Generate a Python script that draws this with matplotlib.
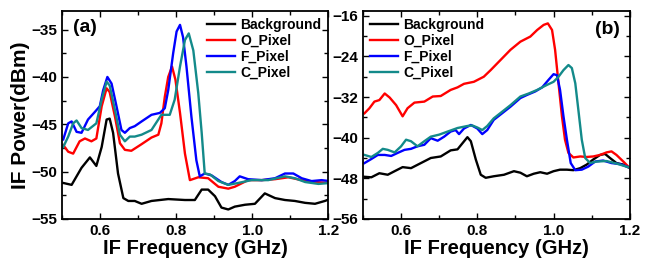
import matplotlib
matplotlib.use("Agg")
import matplotlib.pyplot as plt
from matplotlib.ticker import MultipleLocator

plt.rcParams['font.family'] = ['Liberation Sans', 'DejaVu Sans']
plt.rcParams['font.weight'] = 'bold'

# ---- panel (a) ----
a_bg_f = [0.503, 0.525, 0.551, 0.573, 0.59, 0.604, 0.617, 0.625, 0.634, 0.647, 0.661, 0.674,
          0.691, 0.709, 0.735, 0.779, 0.823, 0.849, 0.867, 0.884, 0.902, 0.919, 0.937, 0.954,
          0.981, 1.007, 1.033, 1.06, 1.086, 1.112, 1.139, 1.165, 1.191, 1.204]
a_bg_p = [-51.2, -51.4, -49.6, -48.5, -49.4, -47.4, -44.5, -44.4, -45.9, -50.2, -52.8, -53.1,
          -53.1, -53.4, -53.1, -52.9, -53.0, -53.0, -51.9, -51.9, -52.6, -53.8, -54.0, -53.7,
          -53.5, -53.4, -52.3, -52.8, -53.0, -53.1, -53.3, -53.4, -53.1, -52.9]

a_o_f = [0.503, 0.516, 0.529, 0.546, 0.56, 0.577, 0.59, 0.604, 0.617, 0.625, 0.639, 0.652,
         0.665, 0.682, 0.709, 0.735, 0.753, 0.761, 0.77, 0.779, 0.789, 0.798, 0.81, 0.823,
         0.836, 0.858, 0.884, 0.911, 0.937, 0.954, 0.989, 1.025, 1.06, 1.095, 1.13, 1.165, 1.204]
a_o_p = [-47.2, -47.9, -48.1, -46.8, -46.5, -46.8, -46.5, -43.1, -41.2, -41.6, -44.2, -47.0,
         -47.7, -47.8, -47.1, -46.4, -46.1, -44.9, -42.1, -40.0, -38.9, -40.3, -43.8, -48.1,
         -50.9, -50.6, -50.7, -51.6, -51.8, -51.6, -50.9, -50.9, -50.8, -50.6, -50.9, -51.1, -51.2]

a_f_f = [0.503, 0.516, 0.525, 0.538, 0.551, 0.568, 0.586, 0.599, 0.608, 0.619, 0.63, 0.643,
         0.656, 0.665, 0.678, 0.691, 0.709, 0.735, 0.757, 0.77, 0.779, 0.792, 0.801, 0.81,
         0.818, 0.827, 0.84, 0.853, 0.862, 0.875, 0.893, 0.919, 0.937, 0.954, 0.967, 0.989,
         1.025, 1.06, 1.086, 1.108, 1.13, 1.156, 1.182, 1.204]
a_f_p = [-46.6, -44.9, -44.7, -45.8, -45.9, -44.5, -43.7, -43.1, -41.4, -40.0, -40.7, -43.1,
         -45.6, -45.9, -45.4, -45.2, -44.7, -44.0, -43.8, -43.3, -41.4, -37.5, -35.2, -34.5,
         -35.8, -38.9, -44.2, -48.8, -50.5, -50.2, -50.4, -51.1, -51.4, -51.0, -50.5, -50.8,
         -50.9, -50.7, -50.2, -50.2, -50.7, -51.0, -50.9, -51.0]

a_c_f = [0.503, 0.516, 0.529, 0.538, 0.551, 0.568, 0.59, 0.604, 0.617, 0.625, 0.639, 0.652,
         0.665, 0.678, 0.691, 0.709, 0.735, 0.761, 0.783, 0.796, 0.81, 0.823, 0.833, 0.845,
         0.858, 0.867, 0.875, 0.889, 0.911, 0.937, 0.963, 0.998, 1.042, 1.086, 1.112, 1.139,
         1.174, 1.204]
a_c_p = [-47.4, -46.3, -44.9, -44.6, -45.4, -45.6, -44.9, -42.4, -40.5, -40.9, -43.5, -46.1,
         -46.8, -46.3, -46.3, -46.1, -45.6, -44.0, -44.0, -42.4, -38.9, -36.1, -35.4, -37.2,
         -41.7, -45.9, -50.2, -50.3, -51.0, -51.4, -51.2, -50.9, -50.9, -50.5, -50.7, -51.1,
         -51.3, -51.2]

# ---- panel (b) ----
b_bg_f = [0.504, 0.522, 0.543, 0.565, 0.583, 0.604, 0.626, 0.652, 0.678, 0.704, 0.73, 0.748,
          0.761, 0.774, 0.783, 0.796, 0.809, 0.822, 0.843, 0.87, 0.896, 0.913, 0.93, 0.948,
          0.965, 0.983, 1.0, 1.017, 1.035, 1.052, 1.07, 1.087, 1.104, 1.122, 1.135, 1.148,
          1.165, 1.183, 1.2]
b_bg_p = [-47.7, -47.8, -47.0, -47.3, -46.6, -45.8, -46.0, -45.0, -44.0, -43.7, -42.5, -42.3,
          -41.1, -39.9, -40.7, -44.3, -47.3, -47.9, -47.6, -47.3, -46.6, -46.9, -47.6, -47.1,
          -46.8, -47.1, -46.6, -46.3, -46.3, -46.4, -46.0, -45.3, -44.3, -43.4, -43.2, -44.0,
          -45.0, -45.3, -46.0]

b_o_f = [0.504, 0.517, 0.53, 0.543, 0.557, 0.57, 0.587, 0.604, 0.617, 0.635, 0.661, 0.683,
         0.704, 0.73, 0.748, 0.765, 0.791, 0.817, 0.835, 0.861, 0.887, 0.913, 0.939, 0.957,
         0.974, 0.985, 0.996, 1.004, 1.013, 1.022, 1.03, 1.039, 1.052, 1.07, 1.087, 1.104,
         1.122, 1.139, 1.152, 1.165, 1.183, 1.2]
b_o_p = [-35.2, -34.2, -32.9, -32.6, -31.3, -32.1, -33.6, -35.8, -34.2, -33.1, -32.9, -31.9,
         -31.8, -30.6, -30.1, -29.4, -29.0, -28.0, -26.7, -24.7, -22.7, -21.1, -20.1, -18.8,
         -17.8, -17.5, -18.8, -22.7, -29.3, -35.8, -40.4, -43.0, -43.9, -43.7, -43.8, -43.7,
         -43.4, -42.9, -42.7, -43.4, -44.7, -46.0]

b_f_f = [0.504, 0.522, 0.539, 0.557, 0.574, 0.591, 0.609, 0.626, 0.643, 0.661, 0.678, 0.696,
         0.713, 0.73, 0.743, 0.752, 0.765, 0.783, 0.8, 0.813, 0.826, 0.843, 0.865, 0.887,
         0.913, 0.93, 0.952, 0.97, 0.987, 1.0, 1.009, 1.017, 1.026, 1.035, 1.045, 1.057,
         1.074, 1.091, 1.109, 1.13, 1.152, 1.174, 1.2]
b_f_p = [-45.0, -44.2, -43.4, -43.4, -43.6, -43.0, -42.4, -42.2, -41.7, -41.4, -40.1, -40.6,
         -39.8, -38.8, -38.5, -39.3, -38.2, -37.5, -38.2, -39.3, -38.5, -36.5, -35.2, -33.9,
         -32.2, -31.6, -30.9, -30.1, -28.6, -27.5, -27.7, -30.6, -35.8, -40.4, -45.0, -46.4,
         -46.3, -45.7, -44.7, -44.5, -45.0, -45.2, -45.9]

b_c_f = [0.504, 0.522, 0.539, 0.552, 0.565, 0.583, 0.6, 0.613, 0.626, 0.643, 0.661, 0.678,
         0.7, 0.722, 0.748, 0.774, 0.787, 0.8, 0.813, 0.826, 0.843, 0.865, 0.887, 0.913,
         0.935, 0.957, 0.983, 1.0, 1.013, 1.026, 1.039, 1.048, 1.057, 1.065, 1.074, 1.083,
         1.096, 1.113, 1.139, 1.165, 1.2]
b_c_p = [-43.4, -43.8, -43.0, -42.2, -42.4, -42.9, -41.7, -40.4, -40.7, -41.7, -40.7, -39.8,
         -39.4, -38.8, -38.1, -37.7, -37.6, -38.0, -38.5, -37.7, -36.2, -34.9, -33.6, -31.9,
         -31.3, -30.6, -29.6, -29.0, -28.0, -26.7, -25.7, -26.3, -29.3, -34.5, -40.4, -44.0,
         -45.0, -44.7, -44.6, -45.1, -45.9]

labels = ['Background', 'O_Pixel', 'F_Pixel', 'C_Pixel']
colors = ['black', '#ff0000', '#0000ff', '#138a8a']

fig = plt.figure(figsize=(6.54, 2.67), dpi=100)
ax1 = fig.add_axes([0.095, 0.18, 0.407, 0.78])
ax2 = fig.add_axes([0.555, 0.18, 0.408, 0.78])

for x, y, lab, c in zip([a_bg_f, a_o_f, a_f_f, a_c_f], [a_bg_p, a_o_p, a_f_p, a_c_p], labels, colors):
    ax1.plot(x, y, color=c, lw=1.7, label=lab)
for x, y, lab, c in zip([b_bg_f, b_o_f, b_f_f, b_c_f], [b_bg_p, b_o_p, b_f_p, b_c_p], labels, colors):
    ax2.plot(x, y, color=c, lw=1.7, label=lab)

ax1.set_xlim(0.5, 1.2)
ax1.set_ylim(-55, -33)
ax1.set_yticks([-55, -50, -45, -40, -35])
ax1.yaxis.set_minor_locator(MultipleLocator(2.5))

ax2.set_xlim(0.5, 1.2)
ax2.set_ylim(-56, -15)
ax2.set_yticks([-56, -48, -40, -32, -24, -16])
ax2.yaxis.set_minor_locator(MultipleLocator(4))

for ax in (ax1, ax2):
    ax.set_xticks([0.6, 0.8, 1.0, 1.2])
    ax.xaxis.set_minor_locator(MultipleLocator(0.1))
    ax.tick_params(which='both', direction='in', top=True, right=True, labelsize=11, width=1)
    ax.tick_params(which='major', length=4)
    ax.tick_params(which='minor', length=3)
    for s in ax.spines.values():
        s.set_linewidth(1.3)
    ax.set_xlabel('IF Frequency (GHz)', fontsize=14.5, fontweight='bold', labelpad=1)

ax1.set_ylabel('IF Power(dBm)', fontsize=15, fontweight='bold', labelpad=1)

ax1.legend(loc='upper right', frameon=False, fontsize=10, handlelength=2.0,
           labelspacing=0.15, borderaxespad=0.1, handletextpad=0.4)
ax2.legend(loc='upper left', frameon=False, fontsize=10, handlelength=2.0,
           labelspacing=0.15, borderaxespad=0.1, handletextpad=0.4)

ax1.text(0.04, 0.92, '(a)', transform=ax1.transAxes, fontsize=14, fontweight='bold', va='center')
ax2.text(0.87, 0.91, '(b)', transform=ax2.transAxes, fontsize=14, fontweight='bold', va='center')

fig.savefig('out.png', dpi=100)
